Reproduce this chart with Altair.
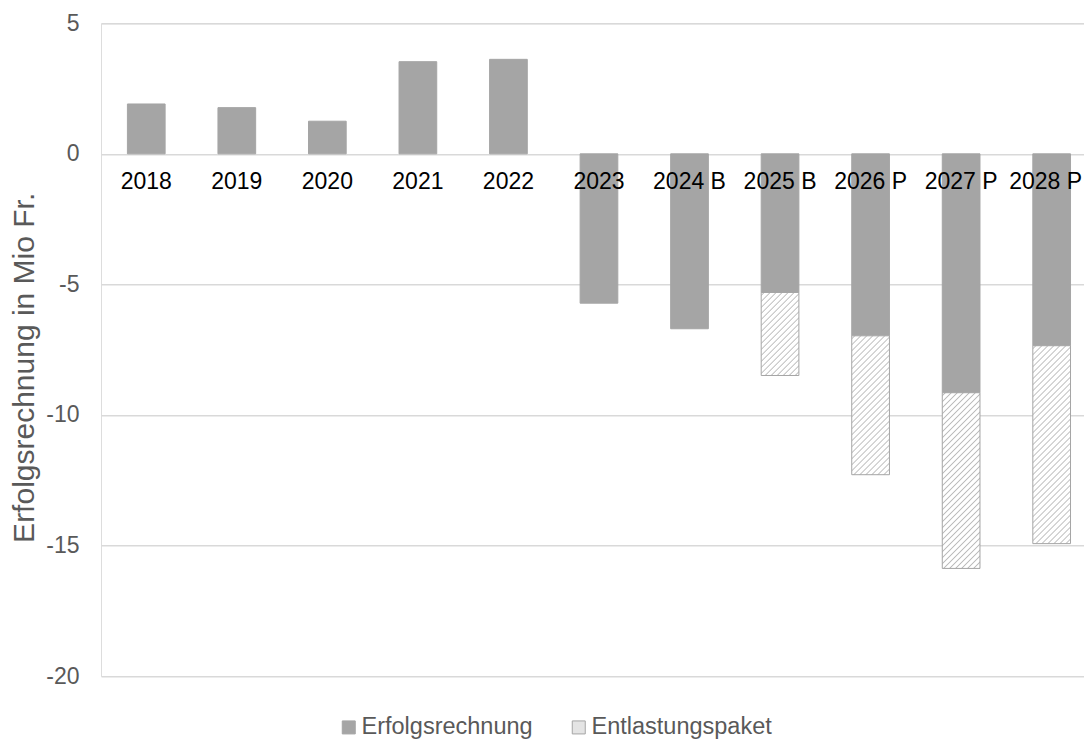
import altair as alt
import pandas as pd

# ---------------- data ----------------
years = ["2018", "2019", "2020", "2021", "2022", "2023",
         "2024 B", "2025 B", "2026 P", "2027 P", "2028 P"]
erfolgsrechnung = [1.91, 1.77, 1.25, 3.53, 3.62, -5.72,
                   -6.70, -5.31, -6.97, -9.15, -7.35]
entlastungspaket = [None, None, None, None, None, None,
                    None, -3.18, -5.32, -6.73, -7.58]
series_names = ["Erfolgsrechnung", "Entlastungspaket"]
y_ticks = [-20, -15, -10, -5, 0, 5]
y_domain = [-20, 5]

rows = []
for yr, e, h in zip(years, erfolgsrechnung, entlastungspaket):
    rows.append({"year": yr, "series": series_names[0], "start": 0.0, "end": e})
    if h is not None:
        rows.append({"year": yr, "series": series_names[1], "start": e, "end": e + h})
df = pd.DataFrame(rows)

# ---------------- layout / style ----------------
FONT = "Liberation Sans"
PLOT_W = 983
PLOT_H = 652.7
PX_PER_UNIT = PLOT_H / (y_domain[1] - y_domain[0])
STEP = 90.54
BAR_W = 37.7
PAD_INNER = 1 - BAR_W / STEP
GRAY = "#A5A5A5"
TEXT_GRAY = "#595959"


def hatch_gradient(value):
    """diagonal '/' hatch emulated with a striped linear gradient"""
    w = BAR_W
    h = abs(value) * PX_PER_UNIT
    k = w / (w * w + h * h)
    period = 6.0
    stops = [{"offset": 0.0, "color": "#ffffff"}]
    s = period / 2
    last = 0.0
    while s < w + h + period:
        for ds, col in ((-1.3, "#ffffff"), (0.0, "#bcbcbc"), (1.3, "#ffffff")):
            off = (s + ds) * k
            if last <= off <= 1:
                stops.append({"offset": round(off, 6), "color": col})
                last = off
        s += period
    return {"gradient": "linear", "x1": 0, "y1": 0, "x2": 1, "y2": round(h / w, 6),
            "stops": stops}


color_conditions = []
for yr, h in zip(years, entlastungspaket):
    if h is not None:
        color_conditions.append({
            "test": f"datum.series === '{series_names[1]}' && datum.year === '{yr}'",
            "value": hatch_gradient(h),
        })

zero_offset = -(0 - y_domain[0]) * PX_PER_UNIT

color_def = {
    "field": "series",
    "type": "nominal",
    "sort": series_names,
    "scale": {"domain": series_names, "range": [GRAY, "#E4E4E4"]},
    "legend": {
        "title": None, "orient": "none", "legendX": 236, "legendY": 692,
        "direction": "horizontal", "columns": 2,
        "symbolType": "square", "symbolSize": 169,
        "symbolStrokeColor": GRAY, "symbolStrokeWidth": 1,
        "labelFontSize": 23.5, "labelColor": TEXT_GRAY, "labelFont": FONT,
        "labelOffset": 1, "labelLimit": 400, "columnPadding": 34,
    },
    "condition": color_conditions,
}

last_year = years[-1]

chart = alt.Chart(df).mark_bar(stroke=GRAY, strokeWidth=1).encode(
    x=alt.X("year:N", sort=years,
            scale=alt.Scale(range=[0, STEP * len(years)],
                            paddingInner=PAD_INNER, paddingOuter=PAD_INNER / 2),
            axis=alt.Axis(title=None, orient="bottom", offset=zero_offset,
                          labelAngle=0, labelFontSize=23, labelColor="#000000",
                          labelFont=FONT, labelPadding=17, ticks=False,
                          labelOffset={"expr": f"datum.value === '{last_year}' ? -6 : 0"},
                          domain=False, grid=False, labelOverlap=False, zindex=1)),
    y=alt.Y("start:Q",
            scale=alt.Scale(domain=y_domain, nice=False, zero=False),
            axis=alt.Axis(values=y_ticks, title="Erfolgsrechnung in Mio Fr.",
                          titleFontSize=30, titleColor=TEXT_GRAY, titleFont=FONT,
                          titleFontWeight="normal", titleAngle=270,
                          titleX=-77, titleY=344, titleBaseline="middle",
                          titleAlign="center",
                          labelExpr="datum.value + ''",
                          labelFontSize=23, labelColor=TEXT_GRAY, labelFont=FONT,
                          labelPadding=22, ticks=False, domain=False,
                          grid=True, gridColor="#D9D9D9", gridWidth=1.5)),
    y2="end:Q",
    color=color_def,
).properties(
    width=PLOT_W,
    height=PLOT_H,
    autosize=alt.AutoSizeParams(type="none"),
    padding={"left": 93, "top": 15.3, "right": 0, "bottom": 63},
).configure_view(stroke=None).configure(font=FONT)

chart.save("out.html", embed_options={"renderer": "svg", "actions": False})
